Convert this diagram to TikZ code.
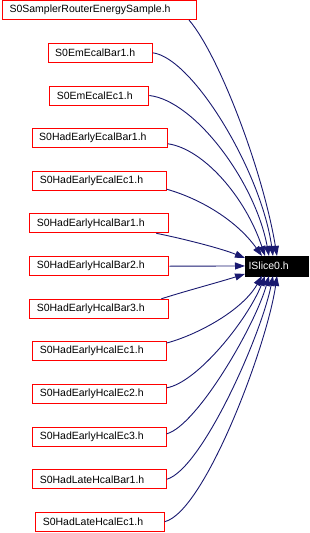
\documentclass[tikz,border=0pt]{standalone}
\usepackage{fontspec}
\setmainfont{Liberation Sans}
\usetikzlibrary{arrows.meta}
\definecolor{edgeblue}{HTML}{191970}
\definecolor{boxred}{HTML}{FF0000}
\begin{document}
\begin{tikzpicture}[x=1pt,y=-1pt,
  src/.style={draw=boxred, line width=1pt, rectangle, inner xsep=7pt, inner ysep=0pt,
    minimum height=19pt, align=left, anchor=west, font=\fontsize{10.5}{12}\selectfont},
  tgt/.style={fill=black, draw=black, text=white, rectangle, inner xsep=3.3pt, inner ysep=0pt,
    minimum height=19.5pt, text width=55.9pt, align=left, anchor=north west,
    font=\fontsize{10.5}{12}\selectfont},
  dep/.style={draw=edgeblue, line width=0.9pt, -{Triangle[length=10pt,width=7pt]}, edgeblue}]
\useasboundingbox (0,0) rectangle (309,533);
\node[src, text width=180pt]   (n1)  at (2,10)      {S0SamplerRouterEnergySample.h};
\node[src, text width=90pt]    (n2)  at (47.7,52.8) {S0EmEcalBar1.h};
\node[src, text width=85pt]    (n3)  at (49.3,95.5) {S0EmEcalEc1.h};
\node[src, text width=121.3pt] (n4)  at (31.7,137.8){S0HadEarlyEcalBar1.h};
\node[src, text width=119.4pt] (n5)  at (32.3,181.2){S0HadEarlyEcalEc1.h};
\node[src, text width=125pt]   (n6)  at (29.3,223.3){S0HadEarlyHcalBar1.h};
\node[src, text width=125pt]   (n7)  at (29.3,266.2){S0HadEarlyHcalBar2.h};
\node[src, text width=125pt]   (n8)  at (29.3,308.8){S0HadEarlyHcalBar3.h};
\node[src, text width=119.4pt] (n9)  at (32.3,351)  {S0HadEarlyHcalEc1.h};
\node[src, text width=119.4pt] (n10) at (32.3,393.8){S0HadEarlyHcalEc2.h};
\node[src, text width=119.4pt] (n11) at (32.3,436.8){S0HadEarlyHcalEc3.h};
\node[src, text width=119.4pt] (n12) at (32.3,479.3){S0HadLateHcalBar1.h};
\node[src, text width=114.4pt] (n13) at (35.3,521.7){S0HadLateHcalEc1.h};
\node[tgt] (t) at (245,256) {ISlice0.h};

\draw[dep] ([xshift=-8pt]n1.south east) .. controls +(30,35) and +(-14,-85) .. ([xshift=32pt]t.north west);
\draw[dep] (n2.east) .. controls +(40,5) and +(-12,-85) .. ([xshift=28pt]t.north west);
\draw[dep] (n3.east) .. controls +(45,5) and +(-14,-75) .. ([xshift=24pt]t.north west);
\draw[dep] ([yshift=-6pt]n4.east) .. controls +(35,5) and +(-20,-60) .. ([xshift=20pt]t.north west);
\draw[dep] ([yshift=-8pt]n5.east) .. controls +(35,10) and +(-25,-35) .. ([xshift=17pt]t.north west);
\draw[dep] ([xshift=-13pt]n6.south east) .. controls +(25,5) and +(-25,-10) .. ([yshift=-2pt]t.north west);
\draw[dep] (n7.east) -- (t.west);
\draw[dep] ([xshift=-8pt]n8.north east) .. controls +(25,-8) and +(-25,8) .. ([yshift=2pt]t.south west);
\draw[dep] ([yshift=8pt]n9.east) .. controls +(30,-8) and +(-20,35) .. ([xshift=17pt]t.south west);
\draw[dep] ([yshift=6pt]n10.east) .. controls +(30,-5) and +(-18,45) .. ([xshift=20pt]t.south west);
\draw[dep] ([yshift=3pt]n11.east) .. controls +(30,-8) and +(-14,50) .. ([xshift=24pt]t.south west);
\draw[dep] (n12.east) .. controls +(35,-10) and +(-12,60) .. ([xshift=28pt]t.south west);
\draw[dep] (n13.east) .. controls +(40,-10) and +(-10,70) .. ([xshift=32pt]t.south west);
\end{tikzpicture}
\end{document}
